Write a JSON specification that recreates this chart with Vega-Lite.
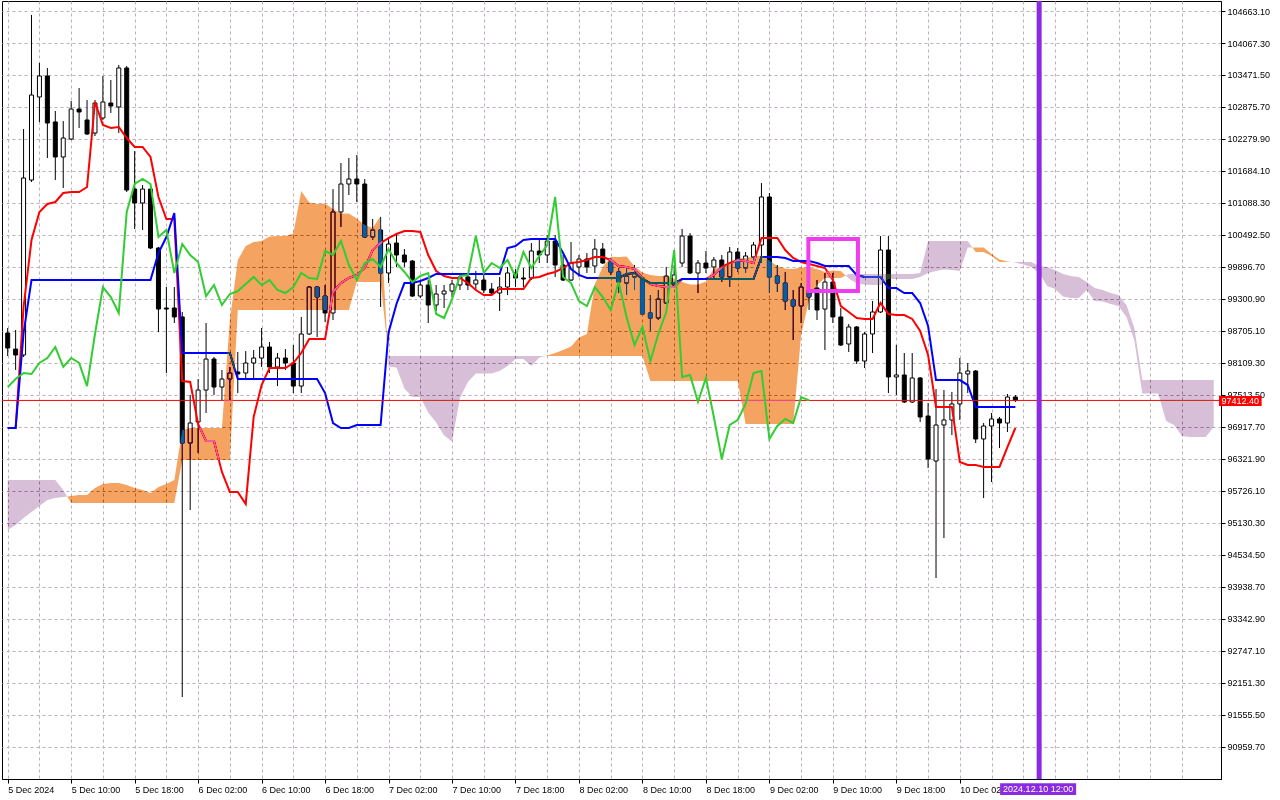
{
  "$schema": "https://vega.github.io/schema/vega-lite/v6.json",
  "width": 1219,
  "height": 778,
  "autosize": "none",
  "padding": {"left": 2, "top": 1, "right": 59, "bottom": 21},
  "background": "#ffffff",
  "config": {
    "view": {"stroke": "#000000", "strokeWidth": 1},
    "axis": {
      "labelFont": "Liberation Sans",
      "labelFontSize": 9,
      "labelColor": "#000000",
      "domainColor": "#000000",
      "tickColor": "#000000",
      "gridColor": "#bcaebc",
      "gridDash": [3, 3],
      "gridWidth": 1
    }
  },
  "datasets": {
    "bars": [
      {"t":0,"open":98667,"high":98761,"low":98239,"close":98388,"tenkan":96899,"kijun":96899,"chikou":97662},
      {"t":1,"open":98369,"high":98723,"low":97979,"close":98258,"tenkan":96899,"kijun":96899,"chikou":97811},
      {"t":2,"open":98258,"high":102466,"low":98221,"close":101554,"tenkan":99152,"kijun":98667,"chikou":97923},
      {"t":3,"open":101516,"high":104589,"low":101479,"close":103099,"tenkan":100399,"kijun":99654,"chikou":97905},
      {"t":4,"open":103062,"high":103695,"low":102597,"close":103453,"tenkan":100921,"kijun":99654,"chikou":98109},
      {"t":5,"open":103453,"high":103602,"low":101926,"close":102578,"tenkan":101070,"kijun":99654,"chikou":98202},
      {"t":6,"open":102597,"high":102801,"low":101516,"close":101945,"tenkan":101107,"kijun":99654,"chikou":98407},
      {"t":7,"open":101945,"high":102615,"low":101367,"close":102298,"tenkan":101274,"kijun":99654,"chikou":98035},
      {"t":8,"open":102279,"high":102987,"low":102261,"close":102838,"tenkan":101293,"kijun":99654,"chikou":98202},
      {"t":9,"open":102838,"high":103229,"low":102485,"close":102783,"tenkan":101293,"kijun":99654,"chikou":98109},
      {"t":10,"open":102634,"high":103006,"low":102354,"close":102373,"tenkan":101386,"kijun":99654,"chikou":97680},
      {"t":11,"open":102391,"high":103006,"low":102335,"close":102950,"tenkan":102969,"kijun":99654,"chikou":98649},
      {"t":12,"open":102671,"high":103453,"low":102634,"close":102969,"tenkan":102541,"kijun":99654,"chikou":99524},
      {"t":13,"open":102950,"high":103378,"low":102764,"close":102894,"tenkan":102485,"kijun":99654,"chikou":99338},
      {"t":14,"open":102876,"high":103658,"low":102391,"close":103602,"tenkan":102504,"kijun":99654,"chikou":99040},
      {"t":15,"open":103602,"high":103639,"low":101293,"close":101330,"tenkan":102298,"kijun":99654,"chikou":100921},
      {"t":16,"open":101348,"high":102056,"low":100604,"close":101088,"tenkan":102131,"kijun":99654,"chikou":101442},
      {"t":17,"open":101088,"high":101423,"low":100585,"close":101348,"tenkan":102131,"kijun":99654,"chikou":101535},
      {"t":18,"open":101348,"high":101423,"low":100231,"close":100250,"tenkan":101945,"kijun":99654,"chikou":101442},
      {"t":19,"open":100250,"high":100269,"low":98686,"close":99114,"tenkan":101200,"kijun":100157,"chikou":100455},
      {"t":20,"open":99133,"high":99524,"low":97923,"close":99114,"tenkan":100790,"kijun":100455,"chikou":100585},
      {"t":21,"open":99133,"high":99524,"low":98854,"close":98966,"tenkan":100790,"kijun":100902,"chikou":99785},
      {"t":22,"open":98966,"high":99059,"low":91890,"close":96619,"tenkan":97774,"kijun":98295,"chikou":100325},
      {"t":23,"open":96619,"high":97513,"low":95372,"close":96992,"tenkan":97755,"kijun":98295,"chikou":100120},
      {"t":24,"open":97011,"high":97811,"low":96433,"close":97606,"tenkan":96974,"kijun":98295,"chikou":99990},
      {"t":25,"open":97606,"high":98854,"low":97178,"close":98183,"tenkan":96656,"kijun":98295,"chikou":99356},
      {"t":26,"open":98183,"high":98221,"low":97513,"close":97662,"tenkan":96656,"kijun":98295,"chikou":99561},
      {"t":27,"open":97662,"high":97979,"low":97420,"close":97811,"tenkan":96080,"kijun":98295,"chikou":99189},
      {"t":28,"open":97811,"high":98035,"low":97420,"close":97923,"tenkan":95707,"kijun":98295,"chikou":99394},
      {"t":29,"open":97942,"high":98314,"low":97550,"close":97905,"tenkan":95707,"kijun":97811,"chikou":99449},
      {"t":30,"open":97923,"high":98332,"low":97792,"close":98109,"tenkan":95484,"kijun":97811,"chikou":99580},
      {"t":31,"open":98109,"high":98351,"low":97792,"close":98202,"tenkan":97104,"kijun":97811,"chikou":99711},
      {"t":32,"open":98202,"high":98761,"low":98035,"close":98407,"tenkan":97699,"kijun":97811,"chikou":99561},
      {"t":33,"open":98407,"high":98500,"low":97923,"close":98035,"tenkan":98016,"kijun":97811,"chikou":99654},
      {"t":34,"open":98035,"high":98295,"low":97680,"close":98202,"tenkan":98016,"kijun":97811,"chikou":99468},
      {"t":35,"open":98202,"high":98369,"low":97979,"close":98109,"tenkan":98016,"kijun":97811,"chikou":99412},
      {"t":36,"open":98109,"high":98444,"low":97550,"close":97680,"tenkan":98109,"kijun":97811,"chikou":99524},
      {"t":37,"open":97680,"high":98966,"low":97550,"close":98649,"tenkan":98295,"kijun":97811,"chikou":99785},
      {"t":38,"open":98649,"high":99542,"low":98630,"close":99524,"tenkan":98555,"kijun":97811,"chikou":99692},
      {"t":39,"open":99524,"high":99542,"low":98593,"close":99338,"tenkan":98555,"kijun":97811,"chikou":99673},
      {"t":40,"open":99356,"high":99561,"low":98873,"close":99040,"tenkan":98555,"kijun":97550,"chikou":100194},
      {"t":41,"open":99040,"high":101348,"low":98910,"close":100921,"tenkan":99431,"kijun":96992,"chikou":100120},
      {"t":42,"open":100921,"high":101833,"low":100642,"close":101442,"tenkan":99598,"kijun":96899,"chikou":100380},
      {"t":43,"open":101442,"high":101926,"low":101237,"close":101535,"tenkan":99692,"kijun":96899,"chikou":99934},
      {"t":44,"open":101535,"high":101982,"low":101107,"close":101442,"tenkan":99748,"kijun":96954,"chikou":99654},
      {"t":45,"open":101442,"high":101535,"low":100436,"close":100455,"tenkan":99878,"kijun":96954,"chikou":99971},
      {"t":46,"open":100455,"high":100790,"low":100399,"close":100585,"tenkan":100213,"kijun":96954,"chikou":100045},
      {"t":47,"open":100585,"high":100828,"low":99152,"close":99785,"tenkan":100343,"kijun":96954,"chikou":99897},
      {"t":48,"open":99785,"high":100455,"low":99598,"close":100325,"tenkan":100436,"kijun":98677,"chikou":100231},
      {"t":49,"open":100343,"high":100492,"low":99897,"close":100120,"tenkan":100511,"kijun":99208,"chikou":99971},
      {"t":50,"open":100120,"high":100231,"low":99897,"close":99990,"tenkan":100566,"kijun":99598,"chikou":99804},
      {"t":51,"open":100008,"high":100027,"low":99338,"close":99356,"tenkan":100566,"kijun":99598,"chikou":99617},
      {"t":52,"open":99356,"high":99654,"low":99319,"close":99561,"tenkan":100548,"kijun":99635,"chikou":99729},
      {"t":53,"open":99561,"high":99654,"low":98854,"close":99189,"tenkan":100120,"kijun":99692,"chikou":99785},
      {"t":54,"open":99189,"high":99561,"low":99077,"close":99394,"tenkan":99822,"kijun":99767,"chikou":99022},
      {"t":55,"open":99394,"high":99561,"low":99133,"close":99449,"tenkan":99729,"kijun":99767,"chikou":98947},
      {"t":56,"open":99449,"high":99654,"low":99338,"close":99580,"tenkan":99692,"kijun":99767,"chikou":99300},
      {"t":57,"open":99561,"high":99785,"low":99468,"close":99711,"tenkan":99692,"kijun":99767,"chikou":99729},
      {"t":58,"open":99711,"high":99785,"low":99468,"close":99561,"tenkan":99598,"kijun":99767,"chikou":99748},
      {"t":59,"open":99580,"high":99822,"low":99468,"close":99654,"tenkan":99468,"kijun":99767,"chikou":100473},
      {"t":60,"open":99654,"high":99804,"low":99412,"close":99468,"tenkan":99375,"kijun":99767,"chikou":99785},
      {"t":61,"open":99486,"high":99598,"low":99375,"close":99412,"tenkan":99375,"kijun":99767,"chikou":99971},
      {"t":62,"open":99412,"high":99711,"low":99077,"close":99524,"tenkan":99486,"kijun":99767,"chikou":99878},
      {"t":63,"open":99524,"high":99897,"low":99375,"close":99785,"tenkan":99486,"kijun":100250,"chikou":100027},
      {"t":64,"open":99785,"high":99859,"low":99524,"close":99692,"tenkan":99486,"kijun":100287,"chikou":99711},
      {"t":65,"open":99692,"high":99878,"low":99524,"close":99673,"tenkan":99486,"kijun":100399,"chikou":100176},
      {"t":66,"open":99692,"high":100343,"low":99654,"close":100194,"tenkan":99692,"kijun":100417,"chikou":99878},
      {"t":67,"open":100194,"high":100399,"low":99971,"close":100120,"tenkan":99711,"kijun":100417,"chikou":100101},
      {"t":68,"open":100120,"high":100492,"low":99971,"close":100380,"tenkan":99767,"kijun":100417,"chikou":100306},
      {"t":69,"open":100380,"high":100492,"low":99711,"close":99934,"tenkan":99804,"kijun":100417,"chikou":101200},
      {"t":70,"open":99934,"high":100120,"low":99635,"close":99654,"tenkan":99878,"kijun":100157,"chikou":99711},
      {"t":71,"open":99654,"high":100362,"low":99635,"close":99971,"tenkan":99971,"kijun":99859,"chikou":99598},
      {"t":72,"open":99897,"high":100120,"low":99711,"close":100045,"tenkan":99990,"kijun":99748,"chikou":99263},
      {"t":73,"open":100045,"high":100157,"low":99785,"close":99897,"tenkan":100027,"kijun":99692,"chikou":99170},
      {"t":74,"open":99915,"high":100417,"low":99785,"close":100231,"tenkan":100083,"kijun":99692,"chikou":99524},
      {"t":75,"open":100231,"high":100343,"low":99953,"close":99971,"tenkan":100083,"kijun":99692,"chikou":99338},
      {"t":76,"open":99990,"high":100064,"low":99748,"close":99804,"tenkan":100027,"kijun":99692,"chikou":99096},
      {"t":77,"open":99804,"high":99878,"low":99412,"close":99617,"tenkan":99915,"kijun":99692,"chikou":99617},
      {"t":78,"open":99598,"high":99878,"low":99375,"close":99729,"tenkan":99897,"kijun":99767,"chikou":98966},
      {"t":79,"open":99711,"high":99934,"low":99468,"close":99785,"tenkan":99859,"kijun":99785,"chikou":98444},
      {"t":80,"open":99692,"high":99729,"low":99003,"close":99022,"tenkan":99692,"kijun":99673,"chikou":98780},
      {"t":81,"open":99040,"high":99375,"low":98704,"close":98947,"tenkan":99580,"kijun":99598,"chikou":98146},
      {"t":82,"open":98947,"high":99468,"low":98910,"close":99300,"tenkan":99542,"kijun":99598,"chikou":98649},
      {"t":83,"open":99226,"high":99897,"low":99208,"close":99729,"tenkan":99524,"kijun":99598,"chikou":99059},
      {"t":84,"open":99561,"high":99934,"low":99524,"close":99748,"tenkan":99524,"kijun":99598,"chikou":100213},
      {"t":85,"open":99971,"high":100604,"low":99897,"close":100473,"tenkan":99673,"kijun":99673,"chikou":97849},
      {"t":86,"open":100473,"high":100529,"low":99767,"close":99785,"tenkan":99673,"kijun":99673,"chikou":97886},
      {"t":87,"open":99785,"high":100027,"low":99412,"close":99971,"tenkan":99673,"kijun":99673,"chikou":97383},
      {"t":88,"open":99971,"high":100194,"low":99785,"close":99878,"tenkan":99673,"kijun":99673,"chikou":97830},
      {"t":89,"open":99897,"high":100083,"low":99673,"close":100027,"tenkan":99748,"kijun":99673,"chikou":97104},
      {"t":90,"open":100027,"high":100120,"low":99617,"close":99711,"tenkan":99897,"kijun":99673,"chikou":96321},
      {"t":91,"open":99711,"high":100269,"low":99524,"close":100176,"tenkan":99971,"kijun":99673,"chikou":96955},
      {"t":92,"open":100176,"high":100250,"low":99804,"close":99878,"tenkan":100027,"kijun":99673,"chikou":97048},
      {"t":93,"open":99878,"high":100176,"low":99785,"close":100101,"tenkan":100008,"kijun":99673,"chikou":97346},
      {"t":94,"open":100083,"high":100362,"low":99971,"close":100306,"tenkan":99971,"kijun":99673,"chikou":97923},
      {"t":95,"open":100306,"high":101460,"low":99971,"close":101200,"tenkan":100436,"kijun":100083,"chikou":97960},
      {"t":96,"open":101200,"high":101274,"low":99412,"close":99711,"tenkan":100436,"kijun":100083,"chikou":96694},
      {"t":97,"open":99729,"high":99934,"low":99431,"close":99598,"tenkan":100436,"kijun":100083,"chikou":96936},
      {"t":98,"open":99598,"high":99804,"low":99096,"close":99263,"tenkan":100213,"kijun":100064,"chikou":97067},
      {"t":99,"open":99282,"high":99468,"low":98537,"close":99170,"tenkan":100064,"kijun":100008,"chikou":96992},
      {"t":100,"open":99170,"high":99598,"low":98854,"close":99524,"tenkan":99990,"kijun":100008,"chikou":97476},
      {"t":101,"open":99468,"high":99561,"low":99096,"close":99338,"tenkan":99953,"kijun":100008,"chikou":97412.4},
      {"t":102,"open":99505,"high":99654,"low":98910,"close":99096,"tenkan":99915,"kijun":99971},
      {"t":103,"open":99114,"high":99785,"low":98351,"close":99617,"tenkan":99878,"kijun":99915},
      {"t":104,"open":99617,"high":99785,"low":98854,"close":98966,"tenkan":99654,"kijun":99915},
      {"t":105,"open":98966,"high":99133,"low":98425,"close":98444,"tenkan":99170,"kijun":99915},
      {"t":106,"open":98463,"high":98836,"low":98314,"close":98780,"tenkan":99059,"kijun":99915},
      {"t":107,"open":98780,"high":98798,"low":98091,"close":98146,"tenkan":98947,"kijun":99748},
      {"t":108,"open":98146,"high":98686,"low":98016,"close":98649,"tenkan":98929,"kijun":99711},
      {"t":109,"open":98649,"high":99263,"low":98295,"close":99059,"tenkan":98929,"kijun":99711},
      {"t":110,"open":99059,"high":100473,"low":99040,"close":100213,"tenkan":99226,"kijun":99711},
      {"t":111,"open":100213,"high":100473,"low":97550,"close":97849,"tenkan":99022,"kijun":99505},
      {"t":112,"open":97849,"high":98444,"low":97513,"close":97886,"tenkan":99003,"kijun":99505},
      {"t":113,"open":97886,"high":98295,"low":97364,"close":97383,"tenkan":99003,"kijun":99412},
      {"t":114,"open":97383,"high":98295,"low":97364,"close":97830,"tenkan":98929,"kijun":99412},
      {"t":115,"open":97830,"high":97849,"low":97011,"close":97104,"tenkan":98704,"kijun":99226},
      {"t":116,"open":97122,"high":97364,"low":96154,"close":96321,"tenkan":98258,"kijun":98798},
      {"t":117,"open":96284,"high":97624,"low":94106,"close":96955,"tenkan":97290,"kijun":97792},
      {"t":118,"open":96955,"high":97606,"low":94850,"close":97048,"tenkan":97290,"kijun":97792},
      {"t":119,"open":97048,"high":97569,"low":96768,"close":97346,"tenkan":97290,"kijun":97792},
      {"t":120,"open":97346,"high":98202,"low":97048,"close":97923,"tenkan":96266,"kijun":97792},
      {"t":121,"open":97905,"high":98109,"low":97550,"close":97960,"tenkan":96210,"kijun":97699},
      {"t":122,"open":97960,"high":97979,"low":96619,"close":96694,"tenkan":96210,"kijun":97290},
      {"t":123,"open":96694,"high":96992,"low":95595,"close":96936,"tenkan":96173,"kijun":97290},
      {"t":124,"open":96936,"high":97178,"low":95893,"close":97067,"tenkan":96173,"kijun":97290},
      {"t":125,"open":97067,"high":97104,"low":96526,"close":96992,"tenkan":96173,"kijun":97290},
      {"t":126,"open":96992,"high":97532,"low":96824,"close":97476,"tenkan":96545,"kijun":97290},
      {"t":127,"open":97476,"high":97513,"low":97383,"close":97412.4,"tenkan":96899,"kijun":97290}
    ],
    "cloud": [
      {"t":0,"a":94999,"b":95930,"seg":1,"kind":"down"},
      {"t":1,"a":95093,"b":95930,"seg":1,"kind":"down"},
      {"t":2,"a":95223,"b":95930,"seg":1,"kind":"down"},
      {"t":3,"a":95335,"b":95930,"seg":1,"kind":"down"},
      {"t":4,"a":95447,"b":95930,"seg":1,"kind":"down"},
      {"t":5,"a":95558,"b":95930,"seg":1,"kind":"down"},
      {"t":6,"a":95595,"b":95930,"seg":1,"kind":"down"},
      {"t":7,"a":95614,"b":95744,"seg":1,"kind":"down"},
      {"t":7.5,"a":95623,"b":95623,"seg":1,"kind":"down"},
      {"t":7.5,"a":95623,"b":95623,"seg":2,"kind":"up"},
      {"t":8,"a":95632,"b":95502,"seg":2,"kind":"up"},
      {"t":9,"a":95651,"b":95502,"seg":2,"kind":"up"},
      {"t":10,"a":95651,"b":95502,"seg":2,"kind":"up"},
      {"t":11,"a":95781,"b":95502,"seg":2,"kind":"up"},
      {"t":12,"a":95856,"b":95502,"seg":2,"kind":"up"},
      {"t":13,"a":95874,"b":95502,"seg":2,"kind":"up"},
      {"t":14,"a":95874,"b":95502,"seg":2,"kind":"up"},
      {"t":15,"a":95837,"b":95502,"seg":2,"kind":"up"},
      {"t":16,"a":95781,"b":95502,"seg":2,"kind":"up"},
      {"t":17,"a":95744,"b":95502,"seg":2,"kind":"up"},
      {"t":18,"a":95688,"b":95502,"seg":2,"kind":"up"},
      {"t":19,"a":95800,"b":95502,"seg":2,"kind":"up"},
      {"t":20,"a":95856,"b":95502,"seg":2,"kind":"up"},
      {"t":21,"a":95930,"b":95502,"seg":2,"kind":"up"},
      {"t":22,"a":96861,"b":96303,"seg":2,"kind":"up"},
      {"t":23,"a":96899,"b":96303,"seg":2,"kind":"up"},
      {"t":24,"a":96899,"b":96303,"seg":2,"kind":"up"},
      {"t":25,"a":96899,"b":96303,"seg":2,"kind":"up"},
      {"t":26,"a":96899,"b":96303,"seg":2,"kind":"up"},
      {"t":27,"a":96899,"b":96303,"seg":2,"kind":"up"},
      {"t":28,"a":98910,"b":96303,"seg":2,"kind":"up"},
      {"t":29,"a":100027,"b":99096,"seg":2,"kind":"up"},
      {"t":30,"a":100287,"b":99096,"seg":2,"kind":"up"},
      {"t":31,"a":100362,"b":99096,"seg":2,"kind":"up"},
      {"t":32,"a":100380,"b":99096,"seg":2,"kind":"up"},
      {"t":33,"a":100464,"b":99096,"seg":2,"kind":"up"},
      {"t":34,"a":100473,"b":99096,"seg":2,"kind":"up"},
      {"t":35,"a":100473,"b":99096,"seg":2,"kind":"up"},
      {"t":36,"a":100520,"b":99096,"seg":2,"kind":"up"},
      {"t":37,"a":101311,"b":99096,"seg":2,"kind":"up"},
      {"t":38,"a":101098,"b":99096,"seg":2,"kind":"up"},
      {"t":39,"a":101070,"b":99096,"seg":2,"kind":"up"},
      {"t":40,"a":101079,"b":99096,"seg":2,"kind":"up"},
      {"t":41,"a":100976,"b":99096,"seg":2,"kind":"up"},
      {"t":42,"a":100893,"b":99096,"seg":2,"kind":"up"},
      {"t":43,"a":100893,"b":99096,"seg":2,"kind":"up"},
      {"t":44,"a":100800,"b":99617,"seg":2,"kind":"up"},
      {"t":45,"a":100679,"b":99617,"seg":2,"kind":"up"},
      {"t":46,"a":100623,"b":99617,"seg":2,"kind":"up"},
      {"t":47,"a":100846,"b":99617,"seg":2,"kind":"up"},
      {"t":47.863,"a":98428,"b":98428,"seg":2,"kind":"up"},
      {"t":47.863,"a":98428,"b":98428,"seg":3,"kind":"down"},
      {"t":48,"a":98044,"b":98239,"seg":3,"kind":"down"},
      {"t":49,"a":98026,"b":98239,"seg":3,"kind":"down"},
      {"t":50,"a":97634,"b":98239,"seg":3,"kind":"down"},
      {"t":51,"a":97476,"b":98239,"seg":3,"kind":"down"},
      {"t":52,"a":97476,"b":98239,"seg":3,"kind":"down"},
      {"t":53,"a":97187,"b":98239,"seg":3,"kind":"down"},
      {"t":54,"a":97001,"b":98239,"seg":3,"kind":"down"},
      {"t":55,"a":96759,"b":98239,"seg":3,"kind":"down"},
      {"t":56,"a":96647,"b":98239,"seg":3,"kind":"down"},
      {"t":57,"a":97457,"b":98239,"seg":3,"kind":"down"},
      {"t":58,"a":97755,"b":98239,"seg":3,"kind":"down"},
      {"t":59,"a":97914,"b":98239,"seg":3,"kind":"down"},
      {"t":60,"a":97914,"b":98239,"seg":3,"kind":"down"},
      {"t":61,"a":97914,"b":98239,"seg":3,"kind":"down"},
      {"t":62,"a":97960,"b":98239,"seg":3,"kind":"down"},
      {"t":63,"a":98053,"b":98239,"seg":3,"kind":"down"},
      {"t":64,"a":98183,"b":98239,"seg":3,"kind":"down"},
      {"t":65,"a":98183,"b":98239,"seg":3,"kind":"down"},
      {"t":66,"a":98053,"b":98239,"seg":3,"kind":"down"},
      {"t":67,"a":98211,"b":98239,"seg":3,"kind":"down"},
      {"t":67.737,"a":98239,"b":98239,"seg":3,"kind":"down"},
      {"t":67.737,"a":98239,"b":98239,"seg":4,"kind":"up"},
      {"t":68,"a":98249,"b":98239,"seg":4,"kind":"up"},
      {"t":69,"a":98295,"b":98239,"seg":4,"kind":"up"},
      {"t":70,"a":98351,"b":98239,"seg":4,"kind":"up"},
      {"t":71,"a":98416,"b":98239,"seg":4,"kind":"up"},
      {"t":72,"a":98584,"b":98239,"seg":4,"kind":"up"},
      {"t":73,"a":98649,"b":98239,"seg":4,"kind":"up"},
      {"t":74,"a":99580,"b":98239,"seg":4,"kind":"up"},
      {"t":75,"a":99897,"b":98239,"seg":4,"kind":"up"},
      {"t":76,"a":100083,"b":98239,"seg":4,"kind":"up"},
      {"t":77,"a":100083,"b":98239,"seg":4,"kind":"up"},
      {"t":78,"a":100092,"b":98239,"seg":4,"kind":"up"},
      {"t":79,"a":99906,"b":98239,"seg":4,"kind":"up"},
      {"t":80,"a":99794,"b":98239,"seg":4,"kind":"up"},
      {"t":81,"a":99748,"b":97774,"seg":4,"kind":"up"},
      {"t":82,"a":99729,"b":97774,"seg":4,"kind":"up"},
      {"t":83,"a":99729,"b":97774,"seg":4,"kind":"up"},
      {"t":84,"a":99683,"b":97774,"seg":4,"kind":"up"},
      {"t":85,"a":99617,"b":97774,"seg":4,"kind":"up"},
      {"t":86,"a":99570,"b":97774,"seg":4,"kind":"up"},
      {"t":87,"a":99570,"b":97774,"seg":4,"kind":"up"},
      {"t":88,"a":99626,"b":97774,"seg":4,"kind":"up"},
      {"t":89,"a":99869,"b":97774,"seg":4,"kind":"up"},
      {"t":90,"a":99887,"b":97774,"seg":4,"kind":"up"},
      {"t":91,"a":99943,"b":97774,"seg":4,"kind":"up"},
      {"t":92,"a":100055,"b":97774,"seg":4,"kind":"up"},
      {"t":93,"a":100064,"b":96974,"seg":4,"kind":"up"},
      {"t":94,"a":100092,"b":96974,"seg":4,"kind":"up"},
      {"t":95,"a":100111,"b":96974,"seg":4,"kind":"up"},
      {"t":96,"a":100018,"b":96974,"seg":4,"kind":"up"},
      {"t":97,"a":99915,"b":96974,"seg":4,"kind":"up"},
      {"t":98,"a":99869,"b":96974,"seg":4,"kind":"up"},
      {"t":99,"a":99859,"b":96974,"seg":4,"kind":"up"},
      {"t":100,"a":99887,"b":98630,"seg":4,"kind":"up"},
      {"t":101,"a":99887,"b":99282,"seg":4,"kind":"up"},
      {"t":102,"a":99859,"b":99561,"seg":4,"kind":"up"},
      {"t":103,"a":99804,"b":99692,"seg":4,"kind":"up"},
      {"t":104,"a":99832,"b":99692,"seg":4,"kind":"up"},
      {"t":105,"a":99822,"b":99692,"seg":4,"kind":"up"},
      {"t":105.607,"a":99738,"b":99738,"seg":4,"kind":"up"},
      {"t":105.607,"a":99738,"b":99738,"seg":5,"kind":"down"},
      {"t":106,"a":99683,"b":99767,"seg":5,"kind":"down"},
      {"t":107,"a":99589,"b":99767,"seg":5,"kind":"down"},
      {"t":108,"a":99570,"b":99767,"seg":5,"kind":"down"},
      {"t":109,"a":99561,"b":99767,"seg":5,"kind":"down"},
      {"t":110,"a":99561,"b":99767,"seg":5,"kind":"down"},
      {"t":111,"a":99673,"b":99767,"seg":5,"kind":"down"},
      {"t":112,"a":99673,"b":99767,"seg":5,"kind":"down"},
      {"t":113,"a":99673,"b":99767,"seg":5,"kind":"down"},
      {"t":114,"a":99673,"b":99767,"seg":5,"kind":"down"},
      {"t":115,"a":99711,"b":99785,"seg":5,"kind":"down"},
      {"t":116,"a":99785,"b":100381,"seg":5,"kind":"down"},
      {"t":117,"a":99822,"b":100381,"seg":5,"kind":"down"},
      {"t":118,"a":99850,"b":100381,"seg":5,"kind":"down"},
      {"t":119,"a":99841,"b":100381,"seg":5,"kind":"down"},
      {"t":120,"a":99822,"b":100381,"seg":5,"kind":"down"},
      {"t":121,"a":100259,"b":100381,"seg":5,"kind":"down"},
      {"t":121.595,"a":100259,"b":100259,"seg":5,"kind":"down"},
      {"t":121.595,"a":100259,"b":100259,"seg":6,"kind":"up"},
      {"t":122,"a":100259,"b":100176,"seg":6,"kind":"up"},
      {"t":123,"a":100259,"b":100176,"seg":6,"kind":"up"},
      {"t":124,"a":100139,"b":100101,"seg":6,"kind":"up"},
      {"t":125,"a":100036,"b":99990,"seg":6,"kind":"up"},
      {"t":126,"a":99999,"b":99990,"seg":6,"kind":"up"},
      {"t":126.47,"a":99990,"b":99990,"seg":6,"kind":"up"},
      {"t":126.47,"a":99990,"b":99990,"seg":7,"kind":"down"},
      {"t":127,"a":99980,"b":99990,"seg":7,"kind":"down"},
      {"t":128,"a":99943,"b":99990,"seg":7,"kind":"down"},
      {"t":129,"a":99897,"b":99990,"seg":7,"kind":"down"},
      {"t":130,"a":99785,"b":99915,"seg":7,"kind":"down"},
      {"t":131,"a":99542,"b":99897,"seg":7,"kind":"down"},
      {"t":132,"a":99486,"b":99841,"seg":7,"kind":"down"},
      {"t":133,"a":99347,"b":99767,"seg":7,"kind":"down"},
      {"t":134,"a":99319,"b":99729,"seg":7,"kind":"down"},
      {"t":135,"a":99319,"b":99711,"seg":7,"kind":"down"},
      {"t":136,"a":99468,"b":99617,"seg":7,"kind":"down"},
      {"t":137,"a":99263,"b":99505,"seg":7,"kind":"down"},
      {"t":138,"a":99254,"b":99468,"seg":7,"kind":"down"},
      {"t":139,"a":99208,"b":99412,"seg":7,"kind":"down"},
      {"t":140,"a":99170,"b":99375,"seg":7,"kind":"down"},
      {"t":141,"a":98966,"b":99189,"seg":7,"kind":"down"},
      {"t":142,"a":98528,"b":98761,"seg":7,"kind":"down"},
      {"t":143,"a":97541,"b":97792,"seg":7,"kind":"down"},
      {"t":144,"a":97541,"b":97792,"seg":7,"kind":"down"},
      {"t":145,"a":97541,"b":97792,"seg":7,"kind":"down"},
      {"t":146,"a":97029,"b":97792,"seg":7,"kind":"down"},
      {"t":147,"a":96954,"b":97792,"seg":7,"kind":"down"},
      {"t":148,"a":96749,"b":97792,"seg":7,"kind":"down"},
      {"t":149,"a":96731,"b":97792,"seg":7,"kind":"down"},
      {"t":150,"a":96731,"b":97792,"seg":7,"kind":"down"},
      {"t":151,"a":96731,"b":97792,"seg":7,"kind":"down"},
      {"t":152,"a":96917,"b":97792,"seg":7,"kind":"down"}
    ]
  },
  "layer": [
    {
      "data": {"name": "bars"},
      "mark": {"type": "rule", "color": "#000000", "strokeWidth": 1},
      "encoding": {
        "x": {
          "field": "t", "type": "quantitative", "title": null,
          "scale": {"domain": [-0.0875, 152.2875], "nice": false, "zero": false},
          "axis": {
            "orient": "bottom", "title": null, "grid": true, "tickCount": 200,
            "values": [0,4,8,12,16,20,24,28,32,36,40,44,48,52,56,60,64,68,72,76,80,84,88,92,96,100,104,108,112,116,120,124,128,132,136,140,144,148],
            "tickSize": 4,
            "tickOpacity": {"condition": {"test": "datum.value % 8 === 0 && datum.value <= 120", "value": 1}, "value": 0},
            "labelAlign": "left", "labelBaseline": "top", "labelPadding": 2,
            "labelOverlap": false, "labelFlush": false, "labelBound": false,
            "labelExpr": "datum.value === 0 ? '5 Dec 2024' : (datum.value % 8 === 0 && datum.value <= 120 ? utcFormat(utc(2024, 11, 5, 2 + datum.value), '%-d %b %H:%M') : '')"
          }
        },
        "y": {
          "field": "low", "type": "quantitative", "title": null,
          "scale": {"domain": [90363.7, 104849.3], "nice": false, "zero": false},
          "axis": {
            "orient": "right", "title": null, "grid": true, "format": ".2f", "tickCount": 200,
            "values": [90959.7,91555.5,92151.3,92747.1,93342.9,93938.7,94534.5,95130.3,95726.1,96321.9,96917.7,97513.5,98109.3,98705.1,99300.9,99896.7,100492.5,101088.3,101684.1,102279.9,102875.7,103471.5,104067.3,104663.1],
            "tickSize": 4, "labelPadding": 2, "labelOverlap": false, "labelFlush": false
          }
        },
        "y2": {"field": "high"}
      }
    },
    {
      "data": {"name": "bars"},
      "mark": {"type": "bar", "width": 4, "stroke": "#000000", "strokeWidth": 1},
      "encoding": {
        "x": {"field": "t", "type": "quantitative", "title": null},
        "y": {"field": "open", "type": "quantitative", "title": null},
        "y2": {"field": "close"},
        "fill": {"condition": {"test": "datum.close < datum.open", "value": "#000000"}, "value": "#ffffff"}
      }
    },
    {
      "data": {"name": "bars"},
      "mark": {"type": "line", "color": "#ff0000", "strokeWidth": 2},
      "encoding": {
        "x": {"field": "t", "type": "quantitative", "title": null},
        "y": {"field": "tenkan", "type": "quantitative", "title": null}
      }
    },
    {
      "data": {"name": "bars"},
      "mark": {"type": "line", "color": "#0000ff", "strokeWidth": 2},
      "encoding": {
        "x": {"field": "t", "type": "quantitative", "title": null},
        "y": {"field": "kijun", "type": "quantitative", "title": null}
      }
    },
    {
      "data": {"values": [{"price": 97412.4}]},
      "mark": {"type": "rule", "color": "#ff0000", "strokeWidth": 1},
      "encoding": {
        "y": {"field": "price", "type": "quantitative", "title": null}
      }
    },
    {
      "data": {"name": "cloud"},
      "mark": {"type": "area", "blend": "difference"},
      "encoding": {
        "x": {"field": "t", "type": "quantitative", "title": null},
        "y": {"field": "a", "type": "quantitative", "title": null, "stack": null},
        "y2": {"field": "b"},
        "color": {"field": "kind", "type": "nominal", "scale": {"domain": ["up", "down"], "range": ["#0b5b9f", "#274027"]}, "legend": null},
        "detail": {"field": "seg", "type": "nominal"}
      }
    },
    {
      "data": {"name": "bars"},
      "mark": {"type": "line", "color": "#32cd32", "strokeWidth": 2},
      "encoding": {
        "x": {"field": "t", "type": "quantitative", "title": null},
        "y": {"field": "chikou", "type": "quantitative", "title": null}
      }
    },
    {
      "data": {"values": [{"t": 130}]},
      "mark": {"type": "rule", "color": "#8a2be2", "strokeWidth": 5},
      "encoding": {
        "x": {"field": "t", "type": "quantitative", "title": null}
      }
    },
    {
      "data": {"values": [{"t": 100.91, "t2": 107.16, "top": 100418, "bottom": 99449}]},
      "mark": {"type": "rect", "filled": false, "stroke": "#f03cf0", "strokeWidth": 4},
      "encoding": {
        "x": {"field": "t", "type": "quantitative", "title": null},
        "x2": {"field": "t2"},
        "y": {"field": "top", "type": "quantitative", "title": null},
        "y2": {"field": "bottom"}
      }
    },
    {
      "data": {"values": [{"t": 152.66, "t2": 158.04, "top": 97495, "bottom": 97309}]},
      "mark": {"type": "rect", "fill": "#ff0000"},
      "encoding": {
        "x": {"field": "t", "type": "quantitative", "title": null},
        "x2": {"field": "t2"},
        "y": {"field": "top", "type": "quantitative", "title": null},
        "y2": {"field": "bottom"}
      }
    },
    {
      "data": {"values": [{"t": 155.35, "price": 97402, "label": "97412.40"}]},
      "mark": {"type": "text", "color": "#ffffff", "font": "Liberation Sans", "fontSize": 9, "align": "center", "baseline": "middle"},
      "encoding": {
        "x": {"field": "t", "type": "quantitative", "title": null},
        "y": {"field": "price", "type": "quantitative", "title": null},
        "text": {"field": "label"}
      }
    },
    {
      "data": {"values": [{"t": 125.08, "t2": 134.66, "top": 90284, "bottom": 90066}]},
      "mark": {"type": "rect", "fill": "#8a2be2"},
      "encoding": {
        "x": {"field": "t", "type": "quantitative", "title": null},
        "x2": {"field": "t2"},
        "y": {"field": "top", "type": "quantitative", "title": null},
        "y2": {"field": "bottom"}
      }
    },
    {
      "data": {"values": [{"t": 129.87, "price": 90177, "label": "2024.12.10 12:00"}]},
      "mark": {"type": "text", "color": "#ffffff", "font": "Liberation Sans", "fontSize": 9, "align": "center", "baseline": "middle"},
      "encoding": {
        "x": {"field": "t", "type": "quantitative", "title": null},
        "y": {"field": "price", "type": "quantitative", "title": null},
        "text": {"field": "label"}
      }
    }
  ]
}
